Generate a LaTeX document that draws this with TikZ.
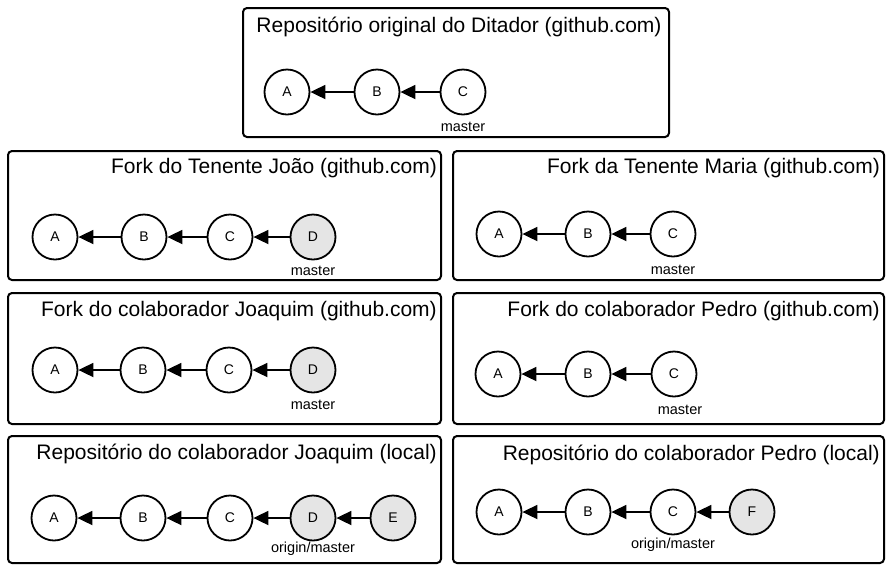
\documentclass[tikz,border=0pt]{standalone}
\usepackage{fontspec}
\setmainfont{Liberation Sans}
\usetikzlibrary{arrows.meta}
\begin{document}
\begin{tikzpicture}[x=1pt,y=-1pt,
  repo/.style={draw, line width=2pt, rounded corners=4pt},
  commit/.style={draw, circle, line width=1.8pt, minimum size=45pt, inner sep=0pt, font=\fontsize{14}{16}\selectfont},
  newcommit/.style={commit, fill=black!10},
  parent/.style={-{Triangle[length=15pt,width=14pt]}, line width=1.8pt},
  title/.style={font=\fontsize{21}{24}\selectfont, inner sep=0pt},
  branch/.style={font=\fontsize{14.5}{16}\selectfont, inner sep=0pt}]
\useasboundingbox (0,0) rectangle (887,566);
\fill[white] (0,0) rectangle (887,566);
% boxes
\draw[repo] (243,8) rectangle (669,137);
\draw[repo] (8,151) rectangle (441,280);
\draw[repo] (453,151) rectangle (884,280);
\draw[repo] (8,293) rectangle (441,424);
\draw[repo] (453,293) rectangle (884,424);
\draw[repo] (8,436) rectangle (441,563);
\draw[repo] (453,436) rectangle (884,563);
% titles
\node[title] (t0) at (459,27) {Repositório original do Ditador (github.com)};
\node[title, anchor=east] (t1) at (437,168) {Fork do Tenente João (github.com)};
\node[title, anchor=east] (t2) at (880,168) {Fork da Tenente Maria (github.com)};
\node[title, anchor=east] (t3) at (437,311) {Fork do colaborador Joaquim (github.com)};
\node[title, anchor=east] (t4) at (880,311) {Fork do colaborador Pedro (github.com)};
\node[title, anchor=east] (t5) at (437,454) {Repositório do colaborador Joaquim (local)};
\node[title, anchor=east] (t6) at (880,455) {Repositório do colaborador Pedro (local)};
% top
\node[commit] (a0) at (287,92) {A};
\node[commit] (b0) at (377,92) {B};
\node[commit] (c0) at (463,92) {C};
\draw[parent] (b0) -- (a0); \draw[parent] (c0) -- (b0);
\node[branch] (m0) at (463,127) {master};
% row2 left
\node[commit] (a1) at (55,237) {A};
\node[commit] (b1) at (144,237) {B};
\node[commit] (c1) at (230,237) {C};
\node[newcommit] (d1) at (313,237) {D};
\draw[parent] (b1) -- (a1); \draw[parent] (c1) -- (b1); \draw[parent] (d1) -- (c1);
\node[branch] (m1) at (313,271) {master};
% row2 right
\node[commit] (a2) at (499,234) {A};
\node[commit] (b2) at (588,234) {B};
\node[commit] (c2) at (673,234) {C};
\draw[parent] (b2) -- (a2); \draw[parent] (c2) -- (b2);
\node[branch] (m2) at (673,270) {master};
% row3 left
\node[commit] (a3) at (55,370) {A};
\node[commit] (b3) at (143,370) {B};
\node[commit] (c3) at (229,370) {C};
\node[newcommit] (d3) at (313,370) {D};
\draw[parent] (b3) -- (a3); \draw[parent] (c3) -- (b3); \draw[parent] (d3) -- (c3);
\node[branch] (m3) at (313,405) {master};
% row3 right
\node[commit] (a4) at (498,374) {A};
\node[commit] (b4) at (588,374) {B};
\node[commit] (c4) at (674,374) {C};
\draw[parent] (b4) -- (a4); \draw[parent] (c4) -- (b4);
\node[branch] (m4) at (680,410) {master};
% row4 left
\node[commit] (a5) at (54,518) {A};
\node[commit] (b5) at (143,518) {B};
\node[commit] (c5) at (230,518) {C};
\node[newcommit] (d5) at (313,518) {D};
\node[newcommit] (e5) at (393,518) {E};
\draw[parent] (b5) -- (a5); \draw[parent] (c5) -- (b5); \draw[parent] (d5) -- (c5); \draw[parent] (e5) -- (d5);
\node[branch] (m5) at (313,549) {origin/master};
% row4 right
\node[commit] (a6) at (499,512) {A};
\node[commit] (b6) at (588,512) {B};
\node[commit] (c6) at (673,512) {C};
\node[newcommit] (f6) at (752,512) {F};
\draw[parent] (b6) -- (a6); \draw[parent] (c6) -- (b6); \draw[parent] (f6) -- (c6);
\node[branch] (m6) at (673,545) {origin/master};
\end{tikzpicture}
\end{document}
